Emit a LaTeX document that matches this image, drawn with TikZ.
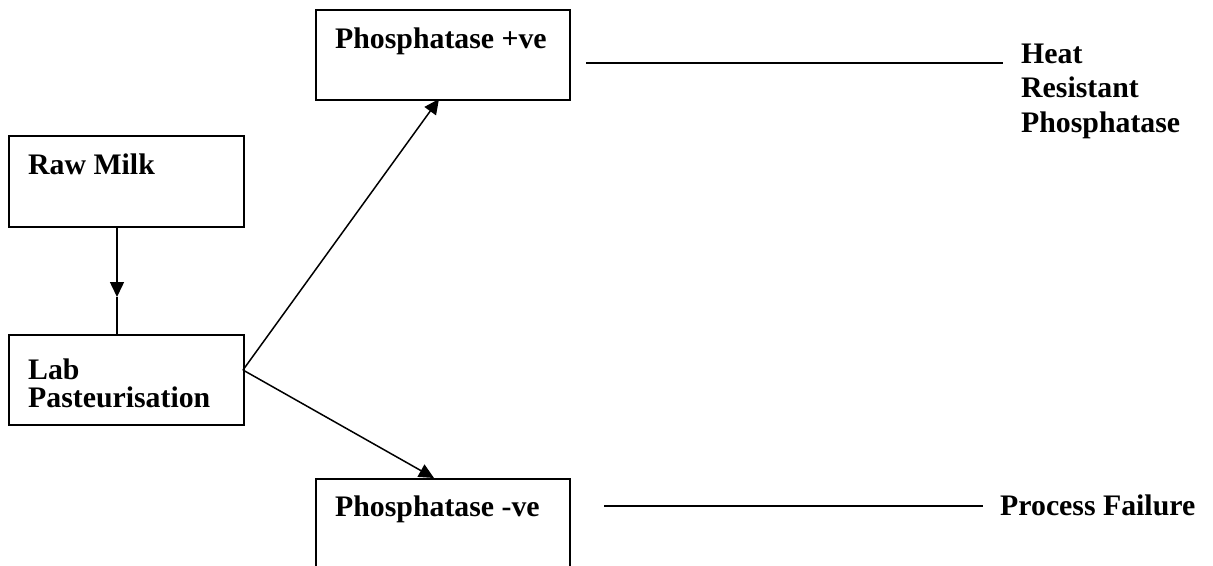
\documentclass[tikz,border=0pt]{standalone}
\usepackage{fontspec}
\setmainfont{Liberation Serif}
\usetikzlibrary{arrows.meta}
\begin{document}
\begin{tikzpicture}[x=1pt,y=-1pt,
  box/.style={draw, line width=1.6pt, anchor=north west, inner sep=0pt},
  lbl/.style={anchor=base west, inner sep=0pt, font=\fontsize{29.8}{34.5}\selectfont\bfseries},
  conn/.style={line width=1.5pt},
  arr/.style={conn, -{Triangle[length=15pt,width=14pt]}}
]
\useasboundingbox (0,0) rectangle (1213,565);
% boxes
\node[box, minimum width=235pt, minimum height=91pt] (rm) at (8,135) {};
\node[box, minimum width=235pt, minimum height=90pt] (lab) at (8,334) {};
\node[box, minimum width=254pt, minimum height=90pt] (pp) at (315,9) {};
\node[box, minimum width=254pt, minimum height=89pt] (pn) at (315,478) {};
% texts
\node[lbl] (trm) at (28,174) {Raw Milk};
\node[lbl, text width=220pt, align=left, font=\fontsize{29.8}{28}\selectfont\bfseries] (tlab) at (28,379) {Lab\\Pasteurisation};
\node[lbl] (tpp) at (335,48) {Phosphatase +ve};
\node[lbl] (tpn) at (335,516) {Phosphatase -ve};
\node[lbl, text width=190pt, align=left] (theat) at (1021,63) {Heat\\Resistant\\Phosphatase};
\node[lbl] (tfail) at (1000,515) {Process Failure};
% connectors
\coordinate (m1) at (117,297);
\draw[arr] (rm.south -| m1) -- (m1);
\draw[conn] (m1) -- (lab.north -| m1);
\coordinate (lp) at (243,370);
\coordinate (t1) at (439,99);
\coordinate (t2) at (434,478);
\draw[arr] (lp) -- (t1);
\draw[arr] (lp) -- (t2);
\coordinate (a1) at (586,63);
\coordinate (a2) at (1003,63);
\draw[conn] (a1) -- (a2);
\coordinate (b1) at (604,506);
\coordinate (b2) at (983,506);
\draw[conn] (b1) -- (b2);
\end{tikzpicture}
\end{document}
